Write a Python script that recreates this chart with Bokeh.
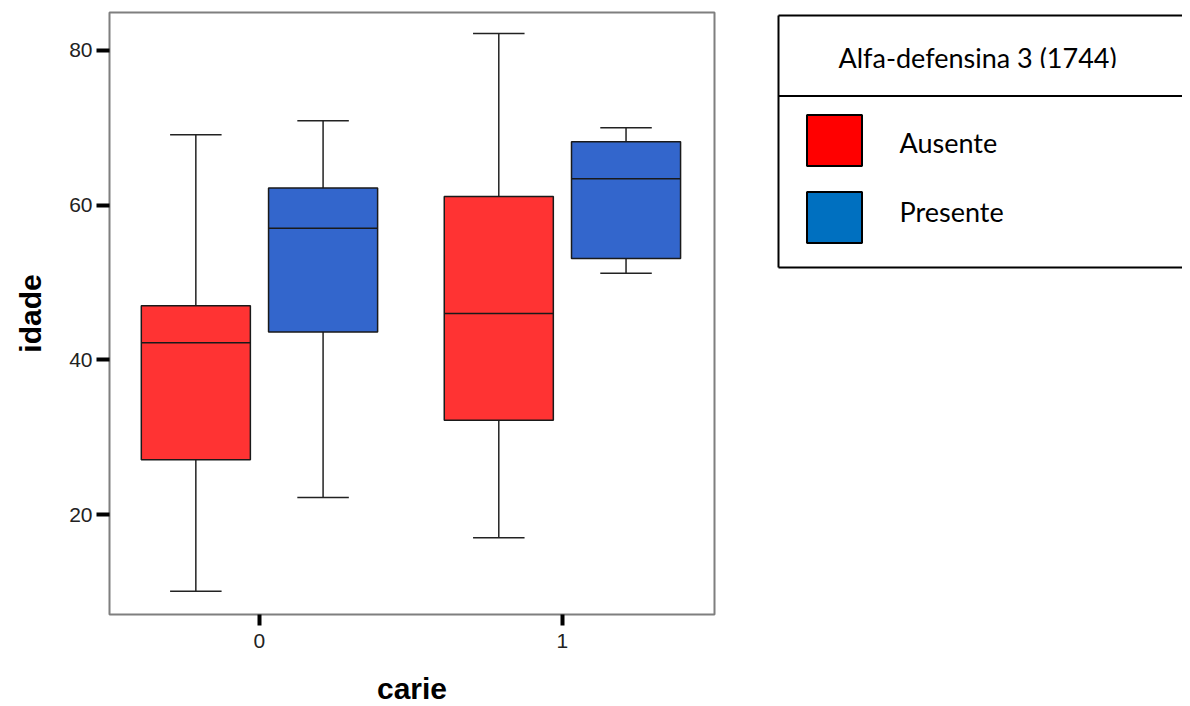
from bokeh.plotting import figure
from bokeh.layouts import row
from bokeh.models import ColumnDataSource, Range1d, FixedTicker
from bokeh.core.properties import value
from bokeh.embed import file_html
from bokeh.resources import INLINE

# ---- data ----
carie = ["0", "1"]
groups = ["Ausente", "Presente"]
legend_title = "Alfa-defensina 3 (1744)"
# per (carie, group): lower whisker, Q1, median, Q3, upper whisker
ausente_low = [10.1, 17.0]
ausente_q1 = [27.1, 32.2]
ausente_med = [42.2, 46.0]
ausente_q3 = [47.0, 61.1]
ausente_high = [69.1, 82.2]
presente_low = [22.2, 51.2]
presente_q1 = [43.6, 53.1]
presente_med = [57.0, 63.4]
presente_q3 = [62.2, 68.2]
presente_high = [70.9, 70.0]
y_ticks = [20, 40, 60, 80]

box_colors = {"Ausente": "#FF3333", "Presente": "#3366CC"}
legend_colors = {"Ausente": "#FF0000", "Presente": "#0070C0"}
offsets = {"Ausente": -0.21, "Presente": 0.21}
box_w = 0.36
cap_w = 0.17

BL, BT, FW, FH, BR, BB = 109, 12, 605, 602, 54, 88
p = figure(frame_width=FW, frame_height=FH, min_border_left=BL, min_border_right=BR,
           min_border_top=BT, min_border_bottom=BB, title=None,
           x_range=Range1d(-0.495, 1.502), y_range=Range1d(7.08, 84.9),
           output_backend="svg", toolbar_location=None)
p.xgrid.visible = False
p.ygrid.visible = False
p.outline_line_color = "#7f7f7f"
p.outline_line_width = 2
p.background_fill_color = "white"

series = {
    "Ausente": (ausente_low, ausente_q1, ausente_med, ausente_q3, ausente_high),
    "Presente": (presente_low, presente_q1, presente_med, presente_q3, presente_high),
}
for g in groups:
    lo, q1, med, q3, hi = series[g]
    xs = [i + offsets[g] for i in range(len(carie))]
    src = ColumnDataSource(dict(x=xs, lo=lo, q1=q1, med=med, q3=q3, hi=hi,
                                xl=[x - box_w / 2 for x in xs], xr=[x + box_w / 2 for x in xs],
                                cl=[x - cap_w / 2 for x in xs], cr=[x + cap_w / 2 for x in xs]))
    p.segment(x0="x", y0="q3", x1="x", y1="hi", source=src, line_color="#222222", line_width=1.5)
    p.segment(x0="x", y0="lo", x1="x", y1="q1", source=src, line_color="#222222", line_width=1.5)
    p.segment(x0="cl", y0="hi", x1="cr", y1="hi", source=src, line_color="#222222", line_width=1.5)
    p.segment(x0="cl", y0="lo", x1="cr", y1="lo", source=src, line_color="#222222", line_width=1.5)
    p.vbar(x="x", width=box_w, bottom="q1", top="q3", source=src,
           fill_color=box_colors[g], line_color="#1a1a1a", line_width=1.5)
    p.segment(x0="xl", y0="med", x1="xr", y1="med", source=src, line_color="#1a1a1a", line_width=1.5)

# axes
p.yaxis.ticker = FixedTicker(ticks=y_ticks)
p.xaxis.ticker = FixedTicker(ticks=list(range(len(carie))))
p.xaxis.major_label_overrides = {i: c for i, c in enumerate(carie)}
for ax in [p.xaxis[0], p.yaxis[0]]:
    ax.axis_line_color = None
    ax.minor_tick_line_color = None
    ax.major_tick_in = 0
    ax.major_tick_line_width = 4
    ax.major_tick_line_color = "black"
    ax.major_label_text_font = "Liberation Sans"
    ax.major_label_text_font_size = "21px"
    ax.major_label_text_color = "#222222"
    ax.axis_label_text_font = "Liberation Sans"
    ax.axis_label_text_font_style = "bold"
    ax.axis_label_text_font_size = "30px"
    ax.axis_label_text_color = "black"
p.yaxis.major_tick_out = 13
p.xaxis.major_tick_out = 11
p.yaxis.major_label_standoff = 4
p.xaxis.major_label_standoff = 8
p.yaxis.axis_label = "idade"
p.xaxis.axis_label = "carie"
p.yaxis.axis_label_standoff = 19
p.xaxis.axis_label_standoff = 21

# ---- legend panel ----
PH = BT + FH + BB
X0 = BL + FW + BR
LW = 414
LH = PH
DY = 12.5
TY = -11  # text baseline correction
q = figure(frame_width=LW, frame_height=LH, x_range=Range1d(X0, X0 + LW),
           y_range=Range1d(LH + DY, DY),
           min_border=0, x_axis_type=None, y_axis_type=None, title=None,
           output_backend="svg", toolbar_location=None)
q.xgrid.visible = False
q.ygrid.visible = False
q.outline_line_color = None

bx0, bx1, by0, by1, sep = 778, 1200, 15.5, 267.5, 96
q.text(x=[838], y=[68 + TY], text=[legend_title], text_font=value("Lato"), text_font_size="27px",
       text_color="black", text_baseline="alphabetic", text_align="left")
q.quad(left=[bx0 + 1], right=[1200], top=[68], bottom=[94], fill_color="white", line_color=None)
q.segment(x0=[bx0, bx0, bx0, bx0], y0=[by0, by1, sep, by0], x1=[bx1, bx1, bx1, bx0],
          y1=[by0, by1, sep, by1], line_color="black", line_width=2)
sw_top = [115, 192]
lab_base = [153, 222]
for i, g in enumerate(groups):
    q.quad(left=[806.5], right=[861.5], top=[sw_top[i]], bottom=[sw_top[i] + 51],
           fill_color=legend_colors[g], line_color="black", line_width=2)
    q.text(x=[899], y=[lab_base[i] + TY], text=[g], text_font=value("Lato"), text_font_size="27px",
           text_color="black", text_baseline="alphabetic", text_align="left")

layout = row(p, q, spacing=0)
open("out.html", "w").write(file_html(layout, INLINE))
